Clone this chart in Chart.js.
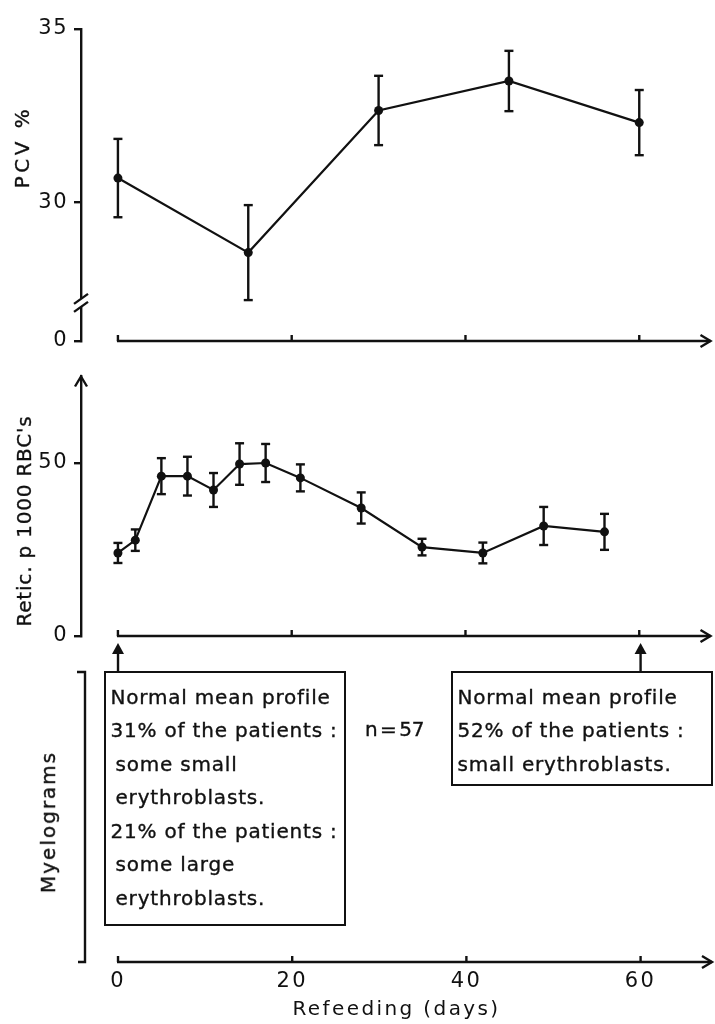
<!DOCTYPE html>
<html>
<head>
<meta charset="utf-8">
<script src="https://cdn.jsdelivr.net/npm/chart.js@4.4.0/dist/chart.umd.min.js"></script>
<style>
  body { margin: 0; background: #fff; }
  #page { position: relative; width: 715px; height: 1024px; overflow: hidden;
          font-family: "DejaVu Sans", sans-serif; color: #111; }
  canvas { position: absolute; left: 0; top: 0; }
  .lbl { position: absolute; font-size: 20px; line-height: 24px; white-space: nowrap;
         -webkit-text-stroke: 0.35px #111; }
  .rot { transform: translate(-50%, -50%) rotate(-90deg); }
  .box { position: absolute; box-sizing: border-box; border: 2.5px solid #111;
         font-size: 20px; line-height: 33.5px; letter-spacing: 0.8px;
         padding: 7.5px 0 0 4.5px; white-space: nowrap; -webkit-text-stroke: 0.35px #111; }
  .ind { padding-left: 5px; }
</style>
</head>
<body>
<div id="page">
  <canvas id="pcvChart" width="715" height="1024"></canvas>
  <canvas id="reticChart" width="715" height="1024"></canvas>
  <canvas id="dayChart" width="715" height="1024"></canvas>

  <div class="lbl rot" style="left:22px; top:147px; letter-spacing:3.5px;">PCV %</div>
  <div class="lbl rot" style="left:24px; top:521px; letter-spacing:0.8px;">Retic. p 1000 RBC's</div>
  <div class="lbl rot" style="left:48px; top:822px; letter-spacing:2px;">Myelograms</div>
  <div class="lbl" style="left:365px; top:717px; word-spacing:-4px;">n = 57</div>

  <div class="box" style="left:104px; top:671px; width:242px; height:255px;">
    <div>Normal mean profile</div>
    <div>31% of the patients :</div>
    <div class="ind">some small</div>
    <div class="ind">erythroblasts.</div>
    <div>21% of the patients :</div>
    <div class="ind">some large</div>
    <div class="ind">erythroblasts.</div>
  </div>
  <div class="box" style="left:451px; top:671px; width:262px; height:115px;">
    <div>Normal mean profile</div>
    <div>52% of the patients :</div>
    <div>small erythroblasts.</div>
  </div>
</div>

<script>
// ---- data ----
const dayTicks = [0, 20, 40, 60];

const pcvDays = [0, 15, 30, 45, 60];
const pcvMean = [30.7, 28.55, 32.65, 33.5, 32.3];
const pcvErr  = [1.13, 1.37, 1.0, 0.87, 0.94];
// broken axis: the bottom tick stands for 0
const pcvTicks = [26, 30, 35];
const pcvTickLabels = ["0", "30", "35"];

const reticDays = [0, 2, 5, 8, 11, 14, 17, 21, 28, 35, 42, 49, 56];
const reticMean = [24, 27.7, 46.2, 46.2, 42.2, 49.7, 50, 45.7, 37, 25.7, 24, 31.8, 30.1];
const reticErr  = [2.9, 3.1, 5.2, 5.6, 4.9, 6.0, 5.5, 3.9, 4.5, 2.4, 3.0, 5.5, 5.2];
const reticTicks = [0, 50];

// ---- shared style ----
const ink = "#111";
const stroke = 2.4;
Chart.defaults.font.family = "'DejaVu Sans', sans-serif";
Chart.defaults.color = ink;

const dayRange = { min: -4.25, max: 68.2 };

function seg(ctx, x1, y1, x2, y2) {
  ctx.beginPath();
  ctx.moveTo(x1, y1);
  ctx.lineTo(x2, y2);
  ctx.stroke();
}

// wider letter spacing for all canvas text of a chart
const spacing = {
  id: "spacing",
  beforeDraw(chart, args, o) { chart.ctx.letterSpacing = (o.px || 0) + "px"; },
  afterDraw(chart) { chart.ctx.letterSpacing = "0px"; }
};

// axis lines, arrows, error bars and the other hand-drawn bits
const decor = {
  id: "decor",
  afterDatasetsDraw(chart, args, o) {
    const { ctx, chartArea: a, scales } = chart;
    const x = scales.x, y = scales.y;
    ctx.save();
    ctx.strokeStyle = ink;
    ctx.fillStyle = ink;
    ctx.lineWidth = stroke;

    // error bars (mean +/- err)
    chart.data.datasets.forEach((ds, i) => {
      if (!ds.err) return;
      chart.getDatasetMeta(i).data.forEach((pt, j) => {
        const v = ds.data[j].y;
        const t = y.getPixelForValue(v + ds.err[j]);
        const b = y.getPixelForValue(v - ds.err[j]);
        seg(ctx, pt.x, t, pt.x, b);
        seg(ctx, pt.x - 4.5, t, pt.x + 4.5, t);
        seg(ctx, pt.x - 4.5, b, pt.x + 4.5, b);
      });
    });

    // time axis from day 0 with an open arrow and upward ticks
    const x0 = x.getPixelForValue(0), yb = a.bottom;
    seg(ctx, x0 - 1, yb, a.right, yb);
    ctx.beginPath();
    ctx.moveTo(a.right - 10, yb - 6);
    ctx.lineTo(a.right, yb);
    ctx.lineTo(a.right - 10, yb + 6);
    ctx.stroke();
    dayTicks.forEach(d => {
      const px = x.getPixelForValue(d);
      seg(ctx, px, yb, px, yb - 6);
    });

    if (o.arrowUp) {
      ctx.beginPath();
      ctx.moveTo(a.left - 6, a.top + 10);
      ctx.lineTo(a.left, a.top);
      ctx.lineTo(a.left + 6, a.top + 10);
      ctx.stroke();
    }

    if (o.breakAt != null) {
      const by = y.getPixelForValue(o.breakAt);
      ctx.fillStyle = "#fff";
      ctx.fillRect(a.left - 3, by - 4, 6, 8);
      ctx.fillStyle = ink;
      seg(ctx, a.left - 7, by + 1, a.left + 7, by - 9);
      seg(ctx, a.left - 7, by + 9, a.left + 7, by - 1);
    }

    if (o.bracket) {
      const bx = a.left + 4;
      ctx.beginPath();
      ctx.moveTo(bx - 8, a.top);
      ctx.lineTo(bx, a.top);
      ctx.lineTo(bx, a.bottom);
      ctx.lineTo(bx - 7, a.bottom);
      ctx.stroke();
    }

    if (o.pointers) {
      o.pointers.forEach(d => {
        const px = x.getPixelForValue(d);
        const tip = o.pointerTip;
        seg(ctx, px, a.top - 1, px, tip + 8);
        ctx.beginPath();
        ctx.moveTo(px, tip);
        ctx.lineTo(px - 6, tip + 11);
        ctx.lineTo(px + 6, tip + 11);
        ctx.closePath();
        ctx.fill();
      });
    }
    ctx.restore();
  }
};

function seriesPoints(days, values) {
  return days.map((d, i) => ({ x: d, y: values[i] }));
}

function lineDataset(days, values, err) {
  return {
    data: seriesPoints(days, values),
    err,
    borderColor: ink,
    borderWidth: 2.2,
    pointRadius: 4.5,
    pointBackgroundColor: ink,
    pointBorderWidth: 0,
    tension: 0,
    clip: false
  };
}

function valueAxis(min, max, tickValues, labelFor) {
  return {
    min, max,
    afterBuildTicks: s => { s.ticks = tickValues.map(v => ({ value: v })); },
    afterFit: s => { s.width = 81; },
    ticks: { callback: labelFor, font: { size: 21 }, color: ink, padding: 6 },
    grid: { drawOnChartArea: false, drawTicks: true, tickLength: 7, color: ink, lineWidth: stroke },
    border: { display: true, color: ink, width: stroke }
  };
}

const hiddenDays = { type: "linear", display: false, ...dayRange };
const quiet = { legend: { display: false }, tooltip: { enabled: false } };

// ---- PCV panel ----
new Chart(document.getElementById("pcvChart"), {
  type: "line",
  data: { datasets: [lineDataset(pcvDays, pcvMean, pcvErr)] },
  options: {
    responsive: false,
    animation: false,
    events: [],
    layout: { padding: { top: 29, bottom: 683, left: 0, right: 3 } },
    scales: {
      x: hiddenDays,
      y: valueAxis(26, 35, pcvTicks, v => pcvTickLabels[pcvTicks.indexOf(v)])
    },
    plugins: { ...quiet, spacing: { px: 1.5 }, decor: { breakAt: 27.1 } }
  },
  plugins: [spacing, decor]
});

// ---- reticulocyte panel ----
new Chart(document.getElementById("reticChart"), {
  type: "line",
  data: { datasets: [lineDataset(reticDays, reticMean, reticErr)] },
  options: {
    responsive: false,
    animation: false,
    events: [],
    layout: { padding: { top: 376.5, bottom: 388, left: 0, right: 3 } },
    scales: {
      x: hiddenDays,
      y: valueAxis(0, 75, reticTicks, v => String(v))
    },
    plugins: { ...quiet, spacing: { px: 1.5 }, decor: { arrowUp: true } }
  },
  plugins: [spacing, decor]
});

// ---- myelogram panel and the day axis ----
new Chart(document.getElementById("dayChart"), {
  type: "line",
  data: { datasets: [] },
  options: {
    responsive: false,
    animation: false,
    events: [],
    layout: { padding: { top: 672, bottom: 0, left: 81, right: 3 } },
    scales: {
      x: {
        type: "linear",
        ...dayRange,
        afterBuildTicks: s => { s.ticks = dayTicks.map(v => ({ value: v })); },
        afterFit: s => { s.height = 62; },
        ticks: { font: { size: 21 }, color: ink, padding: 7, maxRotation: 0 },
        grid: { display: false, drawTicks: false },
        border: { display: false },
        title: { display: true, text: "Refeeding (days)", font: { size: 20 }, color: ink,
                 padding: { top: 0, bottom: 2 } }
      },
      y: { display: false, min: 0, max: 1 }
    },
    plugins: { ...quiet, spacing: { px: 2.4 }, decor: { bracket: true, pointers: [0, 60], pointerTip: 643 } }
  },
  plugins: [spacing, decor]
});
</script>
</body>
</html>
